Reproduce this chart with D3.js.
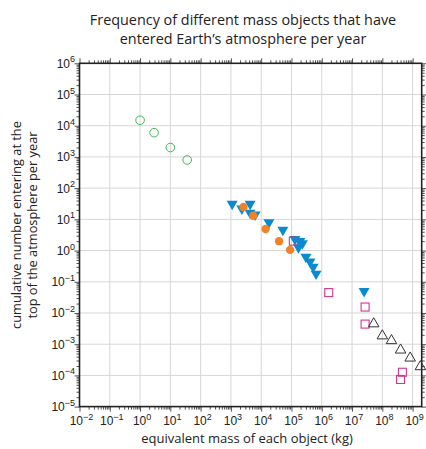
<!DOCTYPE html>
<html>
<head>
<meta charset="utf-8">
<script src="https://cdn.jsdelivr.net/npm/d3@7"></script>
<style>
  html, body { margin: 0; padding: 0; background: #fff; }
  svg { display: block; }
  .tick-label { font-family: "Liberation Sans", Arial, sans-serif; font-size: 12px; fill: #222; }
  .title, .axis-title { font-family: "Open Sans", "Noto Sans", sans-serif; fill: #222; }
</style>
</head>
<body>
<div id="chart"></div>
<script>
// ---- data ----
// open green circles
const smallMass  = [1, 2.9, 10, 36];
const smallCount = [15000, 6000, 2000, 800];

// filled blue down-triangles
const triMass  = [1.1e3, 2.3e3, 4.3e3, 4.3e3, 6.3e3, 1.8e4, 5.2e4, 1.3e5, 1.9e5, 2.3e5, 1.7e5, 3.0e5, 4.1e5, 5.2e5, 6.5e5, 2.5e7];
const triCount = [31, 22, 31, 16, 14, 8, 4.6, 2.3, 2.0, 1.7, 1.25, 0.63, 0.44, 0.30, 0.18, 0.05];

// filled orange circles
const orangeMass  = [2.6e3, 5.5e3, 1.4e4, 3.9e4, 9e4];
const orangeCount = [25, 13, 4.9, 2.0, 1.05];

// open pink squares
const squareMass  = [1.15e5, 1.7e6, 2.7e7, 2.7e7, 4.6e8, 4.0e8];
const squareCount = [2.0, 0.045, 0.0155, 0.0044, 1.26e-4, 7.4e-5];

// open black up-triangles
const bigMass  = [5.2e7, 1.0e8, 2.0e8, 4.0e8, 8.3e8, 1.8e9];
const bigCount = [4.5e-3, 1.85e-3, 1.3e-3, 6.5e-4, 3.6e-4, 1.9e-4];

const xDecades = d3.range(-2, 10);   // 10^-2 .. 10^9
const yDecades = d3.range(-5, 7);    // 10^-5 .. 10^6

// ---- layout ----
const W = 426, H = 449;
const padL = 79.5, padR = 421.7, padT = 63.3, padB = 406.6;

const svg = d3.select("#chart").append("svg").attr("width", W).attr("height", H);

const x = d3.scaleLog().domain([1e-2, Math.pow(10, 9.3)]).range([padL, padR]);
const y = d3.scaleLog().domain([1e-5, 1e6]).range([padB, padT]);

// minor tick values
const minorX = [], minorY = [];
xDecades.forEach(e => d3.range(2, 10).forEach(m => { const v = m * Math.pow(10, e); if (v < x.domain()[1]) minorX.push(v); }));
yDecades.slice(0, -1).forEach(e => d3.range(2, 10).forEach(m => minorY.push(m * Math.pow(10, e))));

// grid
const grid = svg.append("g").attr("stroke", "#d6d6d6").attr("stroke-width", 1);
grid.selectAll("line.gx").data(xDecades.slice(1)).enter().append("line")
  .attr("x1", d => x(Math.pow(10, d))).attr("x2", d => x(Math.pow(10, d)))
  .attr("y1", padT).attr("y2", padB);
grid.selectAll("line.gy").data(yDecades.slice(1, -1)).enter().append("line")
  .attr("y1", d => y(Math.pow(10, d))).attr("y2", d => y(Math.pow(10, d)))
  .attr("x1", padL).attr("x2", padR);

// axes: ticks outward, labels drawn separately (superscripts)
const axisStyle = g => {
  g.select(".domain").remove();
  g.selectAll(".tick line").attr("stroke", "#222").attr("stroke-width", 0.8);
  g.selectAll(".tick text").remove();
};
const majX = xDecades.map(e => Math.pow(10, e));
const majY = yDecades.map(e => Math.pow(10, e));

[[padB, d3.axisBottom], [padT, d3.axisTop]].forEach(([pos, ax]) => {
  svg.append("g").attr("transform", `translate(0,${pos})`).call(ax(x).tickValues(minorX).tickSize(3)).call(axisStyle);
  svg.append("g").attr("transform", `translate(0,${pos})`).call(ax(x).tickValues(majX).tickSize(5)).call(axisStyle);
});
[[padL, d3.axisLeft], [padR, d3.axisRight]].forEach(([pos, ax]) => {
  svg.append("g").attr("transform", `translate(${pos},0)`).call(ax(y).tickValues(minorY).tickSize(3)).call(axisStyle);
  svg.append("g").attr("transform", `translate(${pos},0)`).call(ax(y).tickValues(majY).tickSize(5)).call(axisStyle);
});

// frame
svg.append("rect").attr("x", padL).attr("y", padT).attr("width", padR - padL).attr("height", padB - padT)
  .attr("fill", "none").attr("stroke", "#222").attr("stroke-width", 1.6);

const supLabel = (sel, e) => {
  sel.append("tspan").text("10");
  sel.append("tspan").attr("dy", -5.5).attr("font-size", "9px").text(String(e).replace("-", "\u2212"));
};

svg.append("g").selectAll("text").data(xDecades).enter().append("text")
  .attr("class", "tick-label").attr("x", d => x(Math.pow(10, d)) + 2).attr("y", 425)
  .attr("text-anchor", "middle")
  .each(function (d) { supLabel(d3.select(this), d); });

svg.append("g").selectAll("text").data(yDecades).enter().append("text")
  .attr("class", "tick-label").attr("y", d => y(Math.pow(10, d)) + 4.5)
  .attr("x", 75)
  .attr("text-anchor", "end")
  .each(function (d) { supLabel(d3.select(this), d); });

// titles
svg.append("text").attr("class", "title").attr("x", 243).attr("y", 24.5).attr("text-anchor", "middle")
  .attr("font-size", "14.4px").text("Frequency of different mass objects that have");
svg.append("text").attr("class", "title").attr("x", 243).attr("y", 44).attr("text-anchor", "middle")
  .attr("font-size", "14.4px").text("entered Earth\u2019s atmosphere per year");

svg.append("text").attr("class", "axis-title").attr("x", 247).attr("y", 443).attr("text-anchor", "middle")
  .attr("font-size", "13px").text("equivalent mass of each object (kg)");

const yl = svg.append("text").attr("class", "axis-title").attr("transform", "translate(0,225) rotate(-90)")
  .attr("text-anchor", "middle").attr("font-size", "12.8px");
yl.append("tspan").attr("x", 0).attr("y", 21).text("cumulative number entering at the");
yl.append("tspan").attr("x", 0).attr("y", 36.5).text("top of the atmosphere per year");

// ---- marks ----
const marks = svg.append("g");
const zip = (a, b) => a.map((v, i) => [v, b[i]]);

marks.selectAll("path.tri").data(zip(triMass, triCount)).enter().append("path")
  .attr("d", d3.symbol().type(d3.symbolTriangle).size(52))
  .attr("transform", d => `translate(${x(d[0])},${y(d[1])}) rotate(180)`)
  .attr("fill", "#0a8bd0");

marks.selectAll("circle.or").data(zip(orangeMass, orangeCount)).enter().append("circle")
  .attr("cx", d => x(d[0])).attr("cy", d => y(d[1])).attr("r", 4.2)
  .attr("fill", "#f0832a");

marks.selectAll("circle.gr").data(zip(smallMass, smallCount)).enter().append("circle")
  .attr("cx", d => x(d[0])).attr("cy", d => y(d[1])).attr("r", 4.3)
  .attr("fill", "none").attr("stroke", "#3fb55a").attr("stroke-width", 1);

marks.selectAll("rect.sq").data(zip(squareMass, squareCount)).enter().append("rect")
  .attr("x", d => x(d[0]) - 4).attr("y", d => y(d[1]) - 4).attr("width", 8).attr("height", 8)
  .attr("fill", "none").attr("stroke", "#d4368c").attr("stroke-width", 1.1);

marks.selectAll("path.big").data(zip(bigMass, bigCount)).enter().append("path")
  .attr("d", d3.symbol().type(d3.symbolTriangle).size(48))
  .attr("transform", d => `translate(${x(d[0])},${y(d[1])})`)
  .attr("fill", "none").attr("stroke", "#333").attr("stroke-width", 1);
</script>
</body>
</html>
